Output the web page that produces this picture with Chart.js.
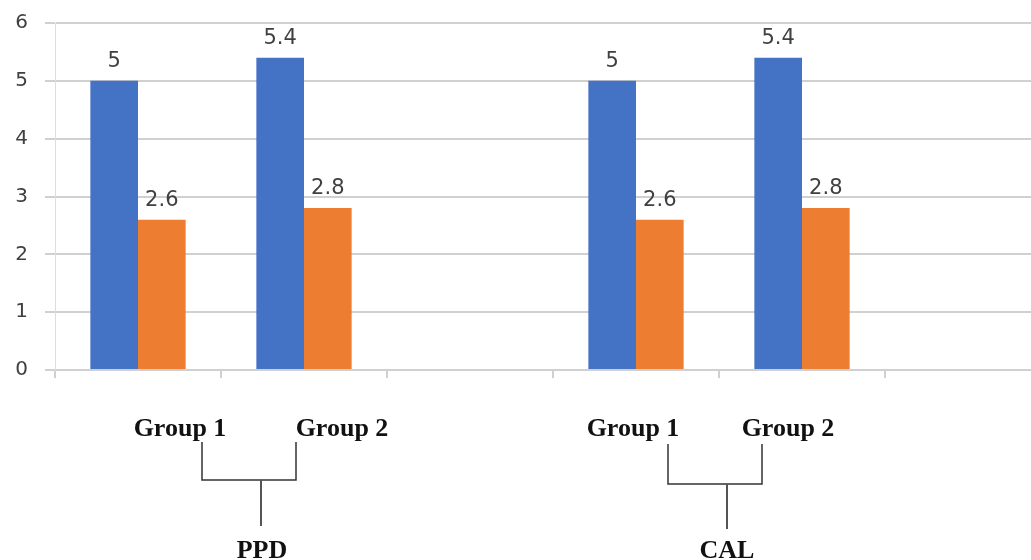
<!DOCTYPE html>
<html>
<head>
<meta charset="utf-8">
<script src="https://cdn.jsdelivr.net/npm/chart.js@4.4.1/dist/chart.umd.min.js"></script>
<style>
  html, body { margin: 0; padding: 0; background: #ffffff; overflow: hidden; }
  #wrap { position: relative; width: 1060px; height: 560px; }
</style>
</head>
<body>
<div id="wrap"><canvas id="c"></canvas></div>
<script>
// ---- data ----
const categories = ["PPD Group 1", "PPD Group 2", "", "CAL Group 1", "CAL Group 2", ""];
const seriesBlue = [5, 5.4, null, 5, 5.4, null];
const seriesOrange = [2.6, 2.8, null, 2.6, 2.8, null];
const yTicks = [0, 1, 2, 3, 4, 5, 6];
const groupLabels = ["Group 1", "Group 2", "Group 1", "Group 2"];
const measureLabels = ["PPD", "CAL"];

const GRID = '#d0d0d0';
const TEXT = '#404040';

// value labels above bars
const valueLabels = {
  id: 'valueLabels',
  afterDatasetsDraw(chart) {
    const ctx = chart.ctx;
    ctx.save();
    ctx.font = '21px "DejaVu Sans", Verdana, sans-serif';
    ctx.fillStyle = TEXT;
    ctx.textAlign = 'center';
    ctx.textBaseline = 'alphabetic';
    chart.data.datasets.forEach((ds, i) => {
      chart.getDatasetMeta(i).data.forEach((bar, j) => {
        const v = ds.data[j];
        if (v === null || v === undefined) return;
        ctx.fillText(String(v), bar.x, bar.y - 14);
      });
    });
    ctx.restore();
  }
};

// bracket annotations below the axis
const brackets = {
  id: 'brackets',
  afterDraw(chart) {
    const ctx = chart.ctx;
    const defs = [
      { g1: 180, g2: 342, l: 202, r: 296, mid: 261, yTop: 442, yBar: 480, yStem: 526, name: measureLabels[0], nx: 262 },
      { g1: 633, g2: 788, l: 668, r: 762, mid: 727, yTop: 444, yBar: 484, yStem: 529, name: measureLabels[1], nx: 727 }
    ];
    ctx.save();
    ctx.font = 'bold 26px "Liberation Serif", "Times New Roman", serif';
    ctx.fillStyle = '#111111';
    ctx.textAlign = 'center';
    ctx.textBaseline = 'alphabetic';
    defs.forEach((d, k) => {
      ctx.fillText(groupLabels[2 * k], d.g1, 436);
      ctx.fillText(groupLabels[2 * k + 1], d.g2, 436);
      ctx.fillText(d.name, d.nx, 558);
      ctx.strokeStyle = '#333333';
      ctx.lineWidth = 1.5;
      ctx.beginPath();
      ctx.moveTo(d.l, d.yTop);
      ctx.lineTo(d.l, d.yBar);
      ctx.lineTo(d.r, d.yBar);
      ctx.lineTo(d.r, d.yTop);
      ctx.stroke();
      ctx.strokeStyle = '#555555';
      ctx.lineWidth = 2;
      ctx.beginPath();
      ctx.moveTo(d.mid, d.yBar);
      ctx.lineTo(d.mid, d.yStem);
      ctx.stroke();
    });
    ctx.restore();
  }
};

new Chart(document.getElementById('c'), {
  type: 'bar',
  data: {
    labels: categories,
    datasets: [
      { label: 'A', data: seriesBlue, backgroundColor: '#4472C4', categoryPercentage: 0.574, barPercentage: 1.0 },
      { label: 'B', data: seriesOrange, backgroundColor: '#ED7D31', categoryPercentage: 0.574, barPercentage: 1.0 }
    ]
  },
  options: {
    responsive: true,
    maintainAspectRatio: false,
    animation: false,
    layout: { padding: { top: 23, right: 9, left: 0, bottom: 0 } },
    plugins: { legend: { display: false }, tooltip: { enabled: false } },
    scales: {
      x: {
        ticks: { display: false },
        grid: { drawOnChartArea: false, drawTicks: true, tickLength: 8, color: GRID, lineWidth: 2, offset: true },
        border: { display: true, color: GRID, width: 2 },
        afterFit(scale) { scale.height = 190; scale.paddingLeft = 0; scale.paddingRight = 0; }
      },
      y: {
        min: 0,
        max: 6,
        afterBuildTicks(scale) { scale.ticks = yTicks.map(v => ({ value: v })); },
        ticks: { color: TEXT, font: { family: '"DejaVu Sans", Verdana, sans-serif', size: 20 }, padding: 17 },
        grid: { color: GRID, lineWidth: 2, tickLength: 10, drawTicks: true },
        border: { display: true, color: '#dddddd', width: 1 },
        afterFit(scale) { scale.width = 55; scale.paddingTop = 0; scale.paddingBottom = 0; }
      }
    }
  },
  plugins: [valueLabels, brackets]
});
</script>
</body>
</html>
